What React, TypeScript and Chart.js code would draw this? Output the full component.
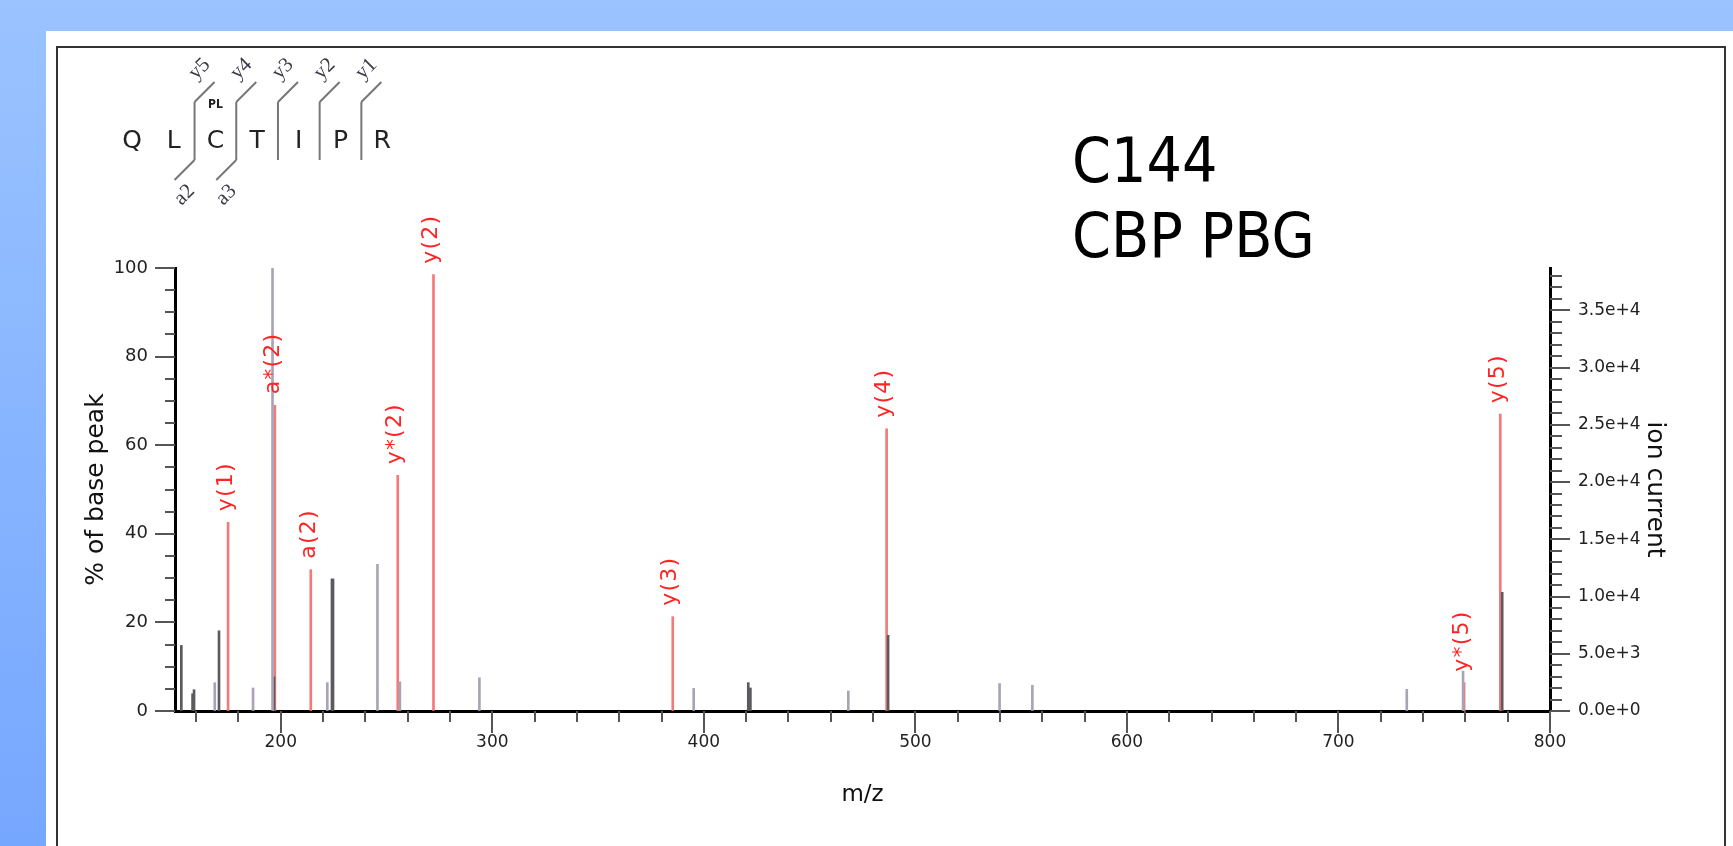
import React, { useEffect, useRef } from "react";
import { Chart, registerables } from "chart.js";

Chart.register(...registerables);

// ---- data ----
const redMz = [175.1, 197.2, 214.2, 255.3, 272.2, 385.3, 486.4, 759.4, 776.5];
const redIntensity = [42.6, 69.0, 31.9, 53.2, 98.5, 21.3, 63.7, 6.4, 67.0];
const redLabels = ["y(1)", "a*(2)", "a(2)", "y*(2)", "y(2)", "y(3)", "y(4)", "y*(5)", "y(5)"];

const darkMz = [153.0, 158.3, 159.0, 170.8, 196.8, 224.2, 224.7, 421.0, 422.0, 487.1, 777.4];
const darkIntensity = [14.8, 3.9, 4.8, 18.1, 7.7, 29.8, 29.8, 6.4, 5.2, 17.1, 26.8];

const lightMz = [168.8, 186.9, 196.1, 222.0, 245.7, 256.3, 293.9, 395.2, 468.3, 539.8, 555.3, 732.3, 758.9];
const lightIntensity = [6.4, 5.2, 100, 6.4, 33.1, 6.6, 7.5, 5.1, 4.5, 6.2, 5.8, 4.9, 9.0];

const residues = ["Q", "L", "C", "T", "I", "P", "R"];
const yIons = [1, 2, 3, 4, 5];
const aIons = [2, 3];
const modResidues = [2];
const modLabels = ["PL"];

const titleLines = ["C144", "CBP PBG"];
const xTitle = "m/z";
const leftTitle = "% of base peak";
const rightTitle = "ion current";
const mzRange = [150, 800];
const pctRange = [0, 100];
const ionCurrentRange = [0, 38700];
const ionCurrentStep = 1000;

// ---- helpers ----
const SANS = '"DejaVu Sans", sans-serif';

function expLabel(v: number): string {
  if (v === 0) return "0.0e+0";
  const e = Math.floor(Math.log10(v) + 1e-9);
  const m = v / Math.pow(10, e);
  return m.toFixed(1) + "e+" + e;
}
const isMult = (v: number, m: number) => Math.abs(v / m - Math.round(v / m)) < 1e-6;

const tickPlugin = {
  id: "customTicks",
  afterDraw(chart: any) {
    const ctx = chart.ctx;
    const x = chart.scales.x;
    const y = chart.scales.y;
    const y2 = chart.scales.y2;
    ctx.save();
    ctx.strokeStyle = "#555";
    ctx.lineWidth = 2;
    x.ticks.forEach((t: any) => {
      const px = Math.round(x.getPixelForValue(t.value));
      const major = isMult(t.value, 100);
      ctx.beginPath();
      ctx.moveTo(px, x.top);
      ctx.lineTo(px, x.top + (major ? 22 : 11));
      ctx.stroke();
    });
    y.ticks.forEach((t: any) => {
      const py = Math.round(y.getPixelForValue(t.value));
      const major = isMult(t.value, 20);
      ctx.beginPath();
      ctx.moveTo(y.right, py);
      ctx.lineTo(y.right - (major ? 20 : 10), py);
      ctx.stroke();
    });
    y2.ticks.forEach((t: any) => {
      const py = Math.round(y2.getPixelForValue(t.value));
      const major = isMult(t.value, 5000);
      ctx.beginPath();
      ctx.moveTo(y2.left, py);
      ctx.lineTo(y2.left + (major ? 20 : 12), py);
      ctx.stroke();
    });
    ctx.restore();
  },
};

const peakLabelPlugin = {
  id: "peakLabels",
  afterDatasetsDraw(chart: any) {
    const ctx = chart.ctx;
    const meta = chart.getDatasetMeta(2);
    ctx.save();
    ctx.fillStyle = "#ff2424";
    ctx.font = "22px " + SANS;
    (ctx as any).letterSpacing = "1.2px";
    ctx.textAlign = "left";
    ctx.textBaseline = "middle";
    meta.data.forEach((el: any, i: number) => {
      ctx.save();
      ctx.translate(el.x - 2, el.y - 11);
      ctx.rotate(-Math.PI / 2);
      ctx.fillText(redLabels[i], 0, 0);
      ctx.restore();
    });
    ctx.restore();
  },
};

const decorPlugin = {
  id: "decor",
  afterDraw(chart: any) {
    const ctx = chart.ctx;
    ctx.save();
    // title
    ctx.fillStyle = "#000";
    ctx.font = '62px "DejaVu Sans Condensed", "DejaVu Sans", sans-serif';
    ctx.textAlign = "left";
    ctx.textBaseline = "alphabetic";
    titleLines.forEach((line, i) => ctx.fillText(line, 1072, 182 + i * 75));

    // peptide fragmentation map
    const x0 = 132;
    const step = 41.7;
    const pos = (i: number) => x0 + i * step;
    ctx.fillStyle = "#222";
    ctx.font = "25px " + SANS;
    ctx.textAlign = "center";
    residues.forEach((r, i) => ctx.fillText(r, pos(i), 148));

    const n = residues.length;
    const breaks = new Set<number>();
    yIons.forEach((k) => breaks.add(n - k - 1));
    aIons.forEach((k) => breaks.add(k - 1));
    ctx.strokeStyle = "#777";
    ctx.lineWidth = 2;
    breaks.forEach((b) => {
      const bx = (pos(b) + pos(b + 1)) / 2;
      ctx.beginPath();
      ctx.moveTo(bx, 102);
      ctx.lineTo(bx, 160);
      ctx.stroke();
    });
    ctx.font = '21px "Liberation Serif", serif';
    ctx.fillStyle = "#3a3a48";
    ctx.textBaseline = "middle";
    yIons.forEach((k) => {
      const b = n - k - 1;
      const bx = (pos(b) + pos(b + 1)) / 2;
      ctx.beginPath();
      ctx.moveTo(bx, 102);
      ctx.lineTo(bx + 20, 82);
      ctx.stroke();
      ctx.save();
      ctx.translate(bx + 5, 69);
      ctx.rotate(-Math.PI / 4);
      ctx.fillText("y" + k, 0, 0);
      ctx.restore();
    });
    aIons.forEach((k) => {
      const b = k - 1;
      const bx = (pos(b) + pos(b + 1)) / 2;
      ctx.beginPath();
      ctx.moveTo(bx, 160);
      ctx.lineTo(bx - 20, 180);
      ctx.stroke();
      ctx.save();
      ctx.translate(bx - 10, 195);
      ctx.rotate(-Math.PI / 4);
      ctx.fillText("a" + k, 0, 0);
      ctx.restore();
    });
    ctx.fillStyle = "#222";
    ctx.font = 'bold 12px "DejaVu Sans Condensed", "DejaVu Sans", sans-serif';
    modResidues.forEach((r, i) => ctx.fillText(modLabels[i], pos(r), 105));
    ctx.restore();
  },
};

export default function App() {
  const ref = useRef<HTMLCanvasElement>(null);
  useEffect(() => {
    const toPts = (xs: number[], ys: number[]) => xs.map((m, i) => ({ x: m, y: ys[i] }));
    const chart = new Chart(ref.current as HTMLCanvasElement, {
      type: "bar",
      data: {
        datasets: [
          {
            label: "unassigned",
            data: toPts(lightMz, lightIntensity) as any,
            backgroundColor: "#aaa3b5",
            barThickness: 2,
            grouped: false,
            borderWidth: 0,
          } as any,
          {
            label: "other",
            data: toPts(darkMz, darkIntensity) as any,
            backgroundColor: "#5c5a5e",
            barThickness: 2,
            grouped: false,
            borderWidth: 0,
          } as any,
          {
            label: "matched",
            data: toPts(redMz, redIntensity) as any,
            backgroundColor: "#f47a7a",
            barThickness: 2,
            grouped: false,
            borderWidth: 0,
          } as any,
        ],
      },
      options: {
        animation: false,
        responsive: false,
        devicePixelRatio: 1,
        events: [],
        layout: { padding: { top: 268, left: 0, right: 0, bottom: 0 } },
        plugins: { legend: { display: false }, tooltip: { enabled: false } },
        scales: {
          x: {
            type: "linear",
            position: "bottom",
            min: mzRange[0],
            max: mzRange[1],
            offset: false,
            grid: { display: true, drawOnChartArea: false, drawTicks: false, offset: false },
            border: { display: true, color: "#000", width: 3 },
            ticks: {
              stepSize: 20,
              includeBounds: false,
              autoSkip: false,
              maxRotation: 0,
              padding: 21,
              color: "#222",
              font: { family: SANS, size: 17 },
              callback: (v: any) => (isMult(Number(v), 100) ? String(Math.round(Number(v))) : ""),
            },
            title: {
              display: true,
              text: xTitle,
              color: "#111",
              font: { family: SANS, size: 23 },
              padding: { top: 0, bottom: 37 },
            },
            afterFit: (s: any) => {
              s.height = 135;
            },
          },
          y: {
            type: "linear",
            position: "left",
            min: pctRange[0],
            max: pctRange[1],
            grid: { display: true, drawOnChartArea: false, drawTicks: false },
            border: { display: true, color: "#000", width: 3 },
            ticks: {
              stepSize: 5,
              autoSkip: false,
              padding: 27,
              color: "#222",
              font: { family: SANS, size: 18 },
              callback: (v: any) => (isMult(Number(v), 20) ? String(Math.round(Number(v))) : ""),
            },
            title: {
              display: true,
              text: leftTitle,
              color: "#111",
              font: { family: SANS, size: 25 },
              padding: { top: 81, bottom: 0 },
            },
            afterFit: (s: any) => {
              s.width = 175;
            },
          },
          y2: {
            type: "linear",
            position: "right",
            min: ionCurrentRange[0],
            max: ionCurrentRange[1],
            grid: { display: true, drawOnChartArea: false, drawTicks: false },
            border: { display: true, color: "#000", width: 3 },
            afterBuildTicks: (s: any) => {
              const ticks: { value: number }[] = [];
              for (let v = ionCurrentRange[0]; v <= ionCurrentRange[1]; v += ionCurrentStep) ticks.push({ value: v });
              s.ticks = ticks;
            },
            ticks: {
              autoSkip: false,
              padding: 28,
              color: "#222",
              font: { family: SANS, size: 17 },
              callback: (v: any) => (isMult(Number(v), 5000) ? expLabel(Math.round(Number(v))) : ""),
            },
            title: {
              display: true,
              text: rightTitle,
              color: "#111",
              font: { family: SANS, size: 25 },
              padding: { top: 64, bottom: 0 },
            },
            afterFit: (s: any) => {
              s.width = 183;
            },
          },
        },
      } as any,
      plugins: [tickPlugin, peakLabelPlugin, decorPlugin],
    });
    return () => chart.destroy();
  }, []);

  return (
    <div
      style={{
        position: "fixed",
        left: 0,
        top: 0,
        width: 1733,
        height: 846,
        overflow: "hidden",
        background: "linear-gradient(to bottom, #9ac3ff, #76a7ff)",
      }}
    >
      <div style={{ position: "absolute", left: 46, top: 31, right: 0, bottom: 0, background: "#fff" }} />
      <div
        style={{
          position: "absolute",
          left: 56,
          top: 46,
          width: 1670,
          height: 900,
          border: "2px solid #333",
          boxSizing: "border-box",
        }}
      />
      <canvas
        ref={ref}
        width={1733}
        height={846}
        style={{ position: "absolute", left: 0, top: 0, width: 1733, height: 846 }}
      />
    </div>
  );
}
